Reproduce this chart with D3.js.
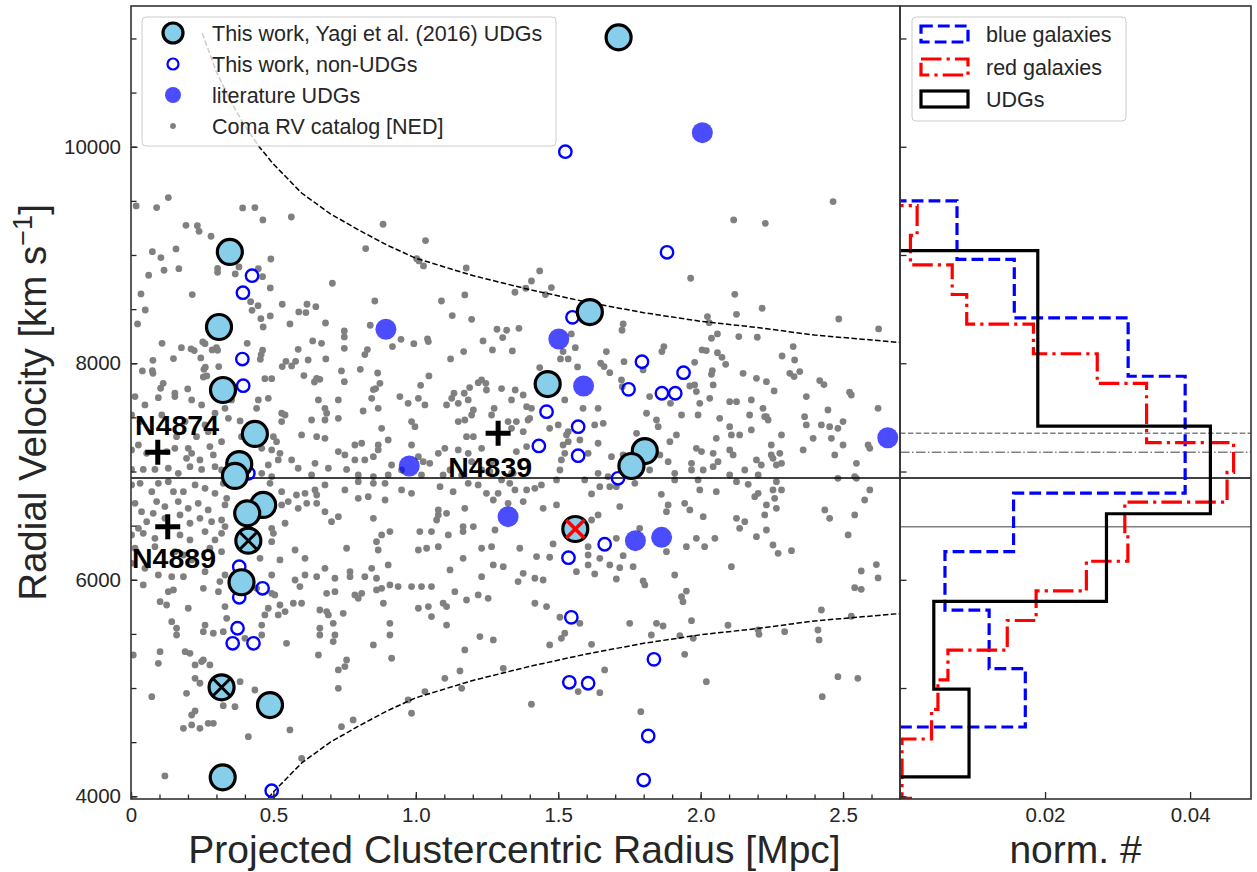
<!DOCTYPE html>
<html>
<head>
<meta charset="utf-8">
<script src="https://cdn.jsdelivr.net/npm/d3@7"></script>
<style>
  body { margin: 0; background: #fff; }
  svg text { font-family: "Liberation Sans", Arial, Helvetica, sans-serif; fill: #262626; }
</style>
</head>
<body>
<svg id="chart" width="1257" height="872"></svg>
<script>
// ---------------- data ----------------
const xTickValues = [0, 0.5, 1.0, 1.5, 2.0, 2.5];
const xTickLabels = ["0", "0.5", "1.0", "1.5", "2.0", "2.5"];
const yTickValues = [4000, 6000, 8000, 10000];
const yTickLabels = ["4000", "6000", "8000", "10000"];
const histTickValues = [0.02, 0.04];
const histTickLabels = ["0.02", "0.04"];

const clusterMeanV = 6940;          // mean cluster velocity (km/s)
const brightNames = ["N4874", "N4889", "N4839"];
const brightR = [0.094, 0.129, 1.289];
const brightV = [7177, 6490, 7353];

// Yagi et al. (2016) UDGs measured in this work
const udgR = [1.712, 0.347, 0.309, 0.323, 1.611, 1.463, 0.435, 0.380, 0.365, 0.464, 0.408, 0.412, 0.388, 0.318, 0.488, 0.322, 1.804, 1.757, 1.560];
const udgV = [11010, 9028, 8335, 7753, 8473, 7808, 7347, 7069, 6959, 6691, 6614, 6361, 5977, 5007, 4843, 4175, 7189, 7051, 6469];
const udgFlag = ["", "", "", "", "", "", "", "", "", "", "", "x", "", "x", "", "", "", "", "redx"];

// non-UDGs from this work
const nonUdgR = [1.525, 1.882, 1.550, 1.794, 1.940, 1.747, 1.864, 1.911, 1.459, 1.570, 1.432, 1.570, 1.710, 1.663, 1.536, 1.546, 1.836, 1.539, 1.605, 1.816, 1.800, 0.425, 0.393, 0.391, 0.394, 0.412, 0.380, 0.462, 0.380, 0.374, 0.357, 0.430, 0.494];
const nonUdgV = [9954, 9025, 8424, 8014, 7913, 7759, 7723, 7723, 7553, 7414, 7236, 7146, 6937, 6328, 6204, 5653, 5265, 5053, 5044, 4557, 4150, 8809, 8652, 8039, 7793, 6983, 6121, 5921, 5838, 5552, 5413, 5413, 4052];

// UDGs from the literature
const litR = [2.006, 0.895, 1.502, 1.589, 0.977, 1.324, 2.657, 1.771, 1.863];
const litV = [10130, 8314, 8224, 7790, 7051, 6583, 7312, 6361, 6392];

// caustic envelope
const causticR = [0.25, 0.30, 0.35, 0.40, 0.45, 0.50, 0.60, 0.70, 0.80, 0.90, 1.00, 1.20, 1.40, 1.60, 1.80, 2.00, 2.20, 2.40, 2.60, 2.70];
const causticUpperV = [11050, 10690, 10420, 10190, 10000, 9840, 9570, 9380, 9230, 9090, 8970, 8810, 8680, 8565, 8467, 8388, 8330, 8260, 8215, 8192];
const causticLowerV = [2830, 3190, 3460, 3690, 3880, 4040, 4310, 4500, 4650, 4790, 4910, 5070, 5200, 5315, 5413, 5492, 5550, 5620, 5665, 5688];

// normalised velocity histograms
const blueEdges = [4640, 5180, 5720, 6260, 6800, 7340, 7880, 8420, 8960, 9500];
const blueVals = [0.01728, 0.01229, 0.00620, 0.01566, 0.03932, 0.03932, 0.03146, 0.01576, 0.00786];
const redEdges = [3708, 3982, 4255, 4529, 4803, 5076, 5350, 5624, 5897, 6171, 6445, 6718, 6992, 7266, 7540, 7814, 8088, 8361, 8635, 8909, 9182, 9456];
const redVals = [0.00144, 0.00028, 0.00028, 0.00435, 0.00523, 0.00661, 0.01479, 0.01877, 0.0257, 0.03142, 0.031, 0.0451, 0.046, 0.034, 0.034, 0.0272, 0.0184, 0.0092, 0.0072, 0.00144, 0.00236];
const udgEdges = [4180, 4990, 5800, 6610, 7420, 8230, 9040];
const udgVals = [0.00952, 0.00466, 0.02847, 0.0428, 0.0190, 0.0190];

// Coma radial-velocity catalogue (NED): [R (Mpc), V (km/s)]
const nedGalaxies = [
[0.131,9530],[0.018,9453],[0.090,9438],[0.392,9435],[0.435,9438],[0.563,9351],[0.463,9324],[0.885,9284],[0.193,9274],[0.233,9271],
[0.239,9219],[0.281,9173],[1.034,9133],[0.158,9056],[0.075,9031],[0.105,8976],[0.824,9059],[0.491,8963],[1.003,8966],[1.011,8945],
[1.027,8899],[1.177,8880],[0.304,8877],[0.116,8859],[0.168,8874],[0.379,8890],[0.304,8840],[0.366,8825],[0.062,8813],[0.462,8800],
[0.447,8874],[0.489,8696],[0.707,8739],[0.035,8640],[0.215,8634],[0.420,8569],[1.172,8631],[0.531,8545],[0.856,8575],[1.090,8575],
[0.618,8545],[0.589,8474],[0.614,8468],[0.649,8523],[0.446,8532],[0.425,8489],[0.050,8492],[0.456,8412],[0.489,8437],[1.128,8440],
[1.196,8406],[0.023,8363],[0.683,8372],[0.558,8363],[0.464,8335],[0.840,8351],[1.285,8314],[1.319,8305],[0.749,8298],[0.749,8243],
[0.948,8221],[0.918,8154],[0.993,8181],[1.041,8224],[1.044,8200],[1.305,8237],[1.236,8206],[0.109,8184],[0.177,8144],[0.211,8132],
[0.222,8117],[0.252,8197],[0.260,8181],[0.408,8184],[0.300,8144],[0.285,8123],[0.304,8120],[0.587,8129],[0.638,8206],[0.669,8184],
[0.749,8138],[0.462,8120],[0.457,8080],[0.454,8037],[0.245,8049],[0.149,8043],[0.077,8027],[0.684,8040],[0.622,8030],[0.830,8126],
[0.821,8080],[1.122,8040],[1.168,8108],[1.269,8123],[0.531,7969],[0.544,8018],[0.564,7975],[0.578,8018],[0.308,7969],[0.261,7963],
[0.256,7944],[0.040,7929],[0.075,7932],[0.077,7907],[0.739,7929],[0.805,7944],[0.866,7910],[0.607,7886],[0.652,7861],[0.663,7852],
[0.644,7827],[0.470,7858],[0.494,7858],[0.254,7873],[0.266,7883],[0.199,7763],[0.154,7723],[0.113,7815],[0.104,7769],[0.749,7830],
[0.874,7815],[0.859,7766],[0.851,7757],[1.046,7883],[1.017,7796],[1.189,7775],[1.219,7821],[1.231,7846],[1.246,7815],[1.248,7753],
[1.301,7766],[1.349,7753],[1.134,7723],[1.170,7723],
[2.465,9493],[2.116,9324],[2.227,9293],[1.965,8785],[1.435,8853],[1.406,8760],[1.476,8699],[1.386,8693],[1.348,8656],[1.455,8634],
[2.120,8637],[2.216,8508],[2.126,8452],[2.024,8431],[2.030,8375],[2.485,8409],[2.625,8317],[1.728,8363],[1.724,8305],[1.362,8323],
[1.546,8271],[2.038,8231],[2.059,8271],[2.134,8246],[2.199,8240],[2.325,8154],[1.339,8114],[1.517,8108],[1.560,8144],[1.669,8108],
[1.871,8154],[1.864,8108],[2.005,8123],[2.020,8117],[2.059,8098],[2.075,8055],[2.088,7990],[2.286,8067],[2.330,8030],[1.508,8040],
[1.535,8040],[1.568,7966],[1.649,8000],[1.661,7969],[1.681,7913],[1.731,8015],[1.979,8009],[2.041,7932],[2.038,7898],[2.149,7907],
[2.196,7861],[2.231,7830],[2.258,7744],[2.313,7907],[2.328,7877],[2.348,7923],[2.418,7840],[2.433,7803],[2.523,7732],[1.435,7960],
[1.722,7846],[1.979,7800],[1.962,7790],[1.985,7738],[2.044,7800],[1.725,7784],[1.798,7938],
[0.096,7682],[0.154,7692],[0.213,7661],[0.248,7615],[0.330,7584],[0.353,7661],[0.447,7661],[0.482,7676],[0.441,7584],[0.529,7538],
[0.658,7661],[0.681,7584],[0.728,7661],[0.815,7559],[0.845,7676],[0.868,7584],[0.944,7692],[0.973,7630],[1.009,7676],[1.032,7615],
[1.108,7615],[1.126,7676],[1.149,7630],[1.184,7661],[1.202,7568],[1.275,7584],[1.336,7661],[0.049,7615],[0.014,7692],
[0.032,7461],[0.108,7522],[0.190,7461],[0.260,7430],[0.295,7538],[0.342,7491],[0.383,7467],[0.541,7522],[0.529,7461],[0.634,7476],
[0.681,7476],[0.728,7491],[0.687,7538],[0.880,7399],[0.985,7461],[0.997,7414],[1.149,7461],[1.196,7522],[1.172,7476],[1.266,7522],
[1.324,7461],[0.002,7522],
[0.026,7245],[0.160,7322],[0.230,7322],[0.271,7368],[0.318,7276],[0.388,7322],[0.500,7322],[0.511,7276],[0.599,7338],[0.652,7322],
[0.681,7307],[0.786,7245],[0.810,7261],[0.868,7245],[0.903,7291],[0.985,7245],[1.178,7322],[1.202,7322],[1.336,7399],
[0.002,7199],[0.055,7168],[0.125,7184],[0.154,7214],[0.201,7214],[0.195,7122],[0.213,7168],[0.242,7107],[0.277,7230],[0.289,7153],
[0.459,7214],[0.494,7199],[0.523,7168],[0.517,7107],[0.564,7107],[0.646,7076],[0.728,7184],[0.751,7153],[0.786,7107],[0.821,7107],
[0.851,7137],[0.868,7199],[0.915,7060],[1.009,7137],[1.026,7091],[1.049,7076],[1.079,7168],[1.102,7214],[1.149,7199],[1.196,7091],
[1.184,7168],[1.231,7214],[1.266,7091],
[0.002,7019],[0.043,7019],[0.084,7019],[0.131,7030],[0.166,6983],[0.207,7045],[0.248,7019],[0.295,7045],[0.318,7014],[0.459,6983],
[0.482,7060],[0.494,6953],[0.587,7030],[0.634,6968],[0.693,7030],[0.757,7019],[0.798,6968],[0.851,6953],[0.903,6968],[0.950,7014],
[1.020,6968],[1.096,6968],[1.120,7014],[1.161,6968],[1.231,7014],[1.260,6999],[1.336,6983],[1.301,6922],
[0.002,6876],[0.032,6891],[0.073,6814],[0.096,6891],[0.131,6906],[0.149,6814],[0.184,6814],[0.225,6876],[0.260,6845],[0.295,6799],
[0.324,6891],[0.488,6891],[0.529,6814],[0.581,6783],[0.611,6799],[0.646,6830],[0.652,6783],[0.681,6876],[0.751,6830],[0.798,6906],
[0.851,6891],[0.892,6891],[0.950,6830],[0.985,6799],[1.085,6860],[1.131,6814],[1.184,6891],[1.219,6876],[1.248,6799],[1.330,6891],
[1.289,6799],
[0.014,6706],[0.037,6629],[0.090,6722],[0.119,6676],[0.166,6722],[0.201,6660],[0.236,6706],[0.271,6645],[0.330,6691],[0.336,6752],
[0.488,6768],[0.529,6691],[0.552,6722],[0.587,6660],[0.617,6706],[0.652,6706],[0.681,6629],[0.798,6752],[0.833,6768],[0.892,6737],
[1.079,6645],[1.108,6614],[1.172,6660],[1.272,6737],[1.324,6706],
[0.026,6475],[0.055,6537],[0.078,6614],[0.119,6568],[0.172,6599],[0.207,6522],[0.242,6568],[0.283,6537],[0.318,6552],[0.330,6491],
[0.494,6475],[0.541,6522],[0.704,6537],[0.728,6583],[0.851,6568],[0.880,6414],[0.909,6445],[1.014,6445],[1.055,6445],[1.073,6552],
[1.079,6599],[1.166,6491],[1.166,6445],[1.202,6491],[1.278,6460],
[0.002,6414],[0.043,6429],[0.084,6383],[0.172,6414],[0.207,6368],[0.260,6445],[0.295,6368],[0.318,6429],[0.500,6429],[0.494,6352],
[0.576,6275],[0.611,6198],[0.757,6291],[0.862,6352],[0.868,6275],[1.038,6291],[1.079,6306],[1.114,6414],[1.231,6291],[1.266,6306],
[0.014,6291],[0.084,6306],[0.154,6260],[0.184,6229],[0.213,6183],[0.277,6291],[0.318,6260],[0.453,6198],[0.523,6183],[0.845,6106],
[0.903,6137],[1.009,6275],[1.166,6198],[1.272,6137],[1.307,6121],[1.120,6091],
[0.002,6152],[0.049,6106],[0.096,6044],[0.143,6029],[0.184,6029],[0.260,6075],[0.330,6044],[0.494,6044],[0.576,5998],[0.611,6044],
[0.652,6029],[0.681,6106],[0.716,6014],[0.769,6029],[0.769,6075],[0.821,6029],[0.862,6014],[0.909,5952],[0.938,5937],[0.985,5937],
[1.231,6029],
[0.043,5952],[0.131,5890],[0.149,5906],[0.254,5921],[0.307,5890],[0.312,5983],[0.441,5921],[0.494,5875],[0.505,5860],[0.593,5937],
[0.687,5875],[0.716,5890],[0.810,5875],[0.786,5860],[0.862,5906],[0.880,5921],[1.020,5937],[1.055,5937],[1.137,5890],[1.219,5860],
[1.254,5829],
[0.102,5798],[0.125,5767],[0.201,5737],[0.330,5752],[0.482,5737],[0.523,5767],[0.541,5706],[0.570,5783],[0.599,5783],[0.663,5721],
[0.687,5706],[0.745,5690],[0.798,5829],[0.886,5783],[1.009,5737],[1.044,5752],[1.096,5783],[1.108,5752],[1.178,5813],
[0.143,5613],[0.160,5552],[0.260,5582],[0.336,5644],[0.470,5675],[0.517,5675],[0.459,5582],[0.663,5552],[0.693,5675],[0.710,5598],
[0.909,5598],[1.055,5660],[1.108,5582],
[0.160,5490],[0.254,5521],[0.289,5506],[0.324,5521],[0.400,5459],[0.546,5413],[0.459,5490],[0.663,5490],[0.716,5490],[0.710,5429],
[0.851,5398],[0.909,5490],[1.225,5475],[1.272,5444],
[0.008,5305],[0.102,5336],[0.190,5336],[0.207,5321],[0.254,5259],[0.915,5275],[0.658,5305],[0.757,5259],[1.172,5352],
[0.096,5228],[0.225,5213],[0.248,5244],[0.277,5213],[0.728,5167],[0.751,5198],[1.155,5158],[1.102,5090],[1.307,5182],
[0.073,4920],[0.195,4951],[0.225,5090],[0.242,5044],[0.383,5059],[0.435,4982],[0.728,4997],[1.032,4967],[1.161,4997],
[0.324,4837],[0.365,4828],[0.213,4751],[0.225,4788],[0.973,4890],[0.985,4767],
[0.184,4628],[0.213,4659],[0.242,4628],[0.271,4674],[0.289,4674],[0.558,4613],[0.739,4643],[0.780,4705],
[0.412,4551],[0.599,4351],[0.119,4188],
[1.377,7707],[1.523,7661],[1.587,7584],[1.640,7584],[1.389,7599],[1.406,7584],[1.400,7491],[1.821,7692],[1.894,7630],[1.933,7522],
[1.997,7630],[2.032,7676],[2.102,7645],[2.126,7645],[2.178,7661],[2.219,7584],[2.225,7507],[2.237,7476],[2.371,7692],[2.365,7507],
[2.371,7430],[2.447,7568],[2.500,7461],[2.623,7584],[2.529,7707],
[1.353,7461],[1.394,7476],[1.470,7399],[1.500,7430],[1.535,7368],[1.628,7430],[1.658,7445],[1.810,7538],[1.845,7476],[1.851,7414],
[1.991,7522],[2.067,7491],[2.102,7414],[2.172,7522],[2.178,7384],[2.231,7507],[2.424,7430],[2.453,7414],[2.482,7399],
[1.377,7368],[1.529,7338],[1.576,7291],[1.535,7276],[1.640,7261],[1.775,7353],[1.892,7276],[1.915,7338],[2.055,7307],[2.108,7338],
[2.137,7338],[2.284,7338],[2.248,7245],[2.395,7307],[2.459,7307],[2.500,7245],[2.588,7245],
[1.353,7184],[1.389,7230],[1.517,7245],[1.523,7168],[1.605,7168],[1.687,7137],[1.728,7153],[1.857,7153],[1.886,7091],[1.985,7214],
[2.003,7184],[1.968,7076],[2.044,7168],[2.061,7091],[2.102,7199],[2.114,7153],[2.196,7107],[2.213,7060],[2.248,7153],[2.254,7122],
[2.278,7168],[2.360,7199],[2.471,7153],[2.547,7076],[2.594,7214],
[1.342,6983],[1.511,7107],[1.506,7014],[1.640,6983],[1.593,6922],[1.675,6953],[1.821,7014],[1.909,6983],[1.968,7014],[2.009,7014],
[2.044,7045],[2.102,6968],[2.155,7014],[2.202,6968],[2.266,7060],[2.284,7076],[2.541,6953],[2.482,6937],
[1.348,6830],[1.418,6845],[1.389,6830],[1.441,6876],[1.494,6922],[1.617,6793],[1.646,6860],[1.681,6860],[1.704,6860],[1.769,6891],
[1.862,6789],[1.909,6922],[1.991,6922],[1.997,6830],[2.055,6814],[2.126,6906],[2.167,6882],[2.202,6799],[2.254,6830],[2.266,6906],
[2.284,6830],[2.594,6830],[2.547,6937],
[1.377,6722],[1.447,6660],[1.494,6691],[1.716,6676],[1.886,6691],[1.880,6629],[1.944,6706],[1.962,6645],[2.190,6768],[2.231,6691],
[2.260,6752],[2.266,6660],[2.436,6645],[2.576,6737],
[1.640,6599],[1.617,6552],[2.009,6583],[2.126,6568],[2.155,6537],[2.137,6475],[2.225,6599],[2.231,6460],[2.453,6568],[2.541,6599],
[1.365,6291],[1.482,6331],[1.605,6306],[1.704,6383],[1.786,6475],[1.880,6260],[1.950,6306],[1.985,6383],[2.014,6306],[2.050,6383],
[2.196,6398],[2.254,6321],[2.272,6244],[2.319,6269],[2.518,6414],
[1.424,6214],[1.470,6208],[1.605,6229],[1.646,6198],[1.564,6075],[1.681,6137],[1.728,6223],[1.763,6121],[1.716,6112],[1.605,6137],
[1.628,6054],[2.108,6121],
[1.377,6060],[1.359,5983],[1.418,6014],[1.447,5998],[1.704,6007],[1.798,5989],[1.804,5952],[1.909,6044],[2.617,6140],[2.623,6017],
[2.564,6081],[2.541,5927],[2.564,5912],
[1.418,5783],[1.459,5752],[1.950,5896],[1.933,5844],[1.938,5798],[2.424,5721],
[1.506,5654],[1.576,5598],[1.751,5598],[1.845,5598],[1.868,5573],[1.968,5622],[2.096,5580],[2.529,5663],[2.412,5536],
[1.511,5459],[1.523,5506],[1.470,5398],[1.617,5404],[1.827,5490],[1.927,5484],[1.974,5459],[2.202,5536],[2.205,5496],[2.295,5521],
[2.416,5444],
[1.663,5167],[1.944,5311],[2.020,5059],[1.570,4967],[1.646,4957],[2.482,5105],[2.552,5090],[2.427,4920],
[1.406,4850],[1.790,4782]
];

// ---------------- layout ----------------
const svg = d3.select("#chart");
const x = d3.scaleLinear().domain([0, 2.7]).range([131, 900]);
const y = d3.scaleLinear().domain([3975, 11300]).range([799, 6]);
const hx = d3.scaleLinear().domain([0, 0.0484]).range([900, 1251]);

const defs = svg.append("defs");
defs.append("clipPath").attr("id", "clipMain").append("rect")
  .attr("x", x.range()[0]).attr("y", y.range()[1])
  .attr("width", x.range()[1] - x.range()[0]).attr("height", y.range()[0] - y.range()[1]);
defs.append("clipPath").attr("id", "clipHist").append("rect")
  .attr("x", hx.range()[0]).attr("y", y.range()[1])
  .attr("width", hx.range()[1] - hx.range()[0]).attr("height", y.range()[0] - y.range()[1]);

// ---------------- scatter panel ----------------
const main = svg.append("g").attr("clip-path", "url(#clipMain)");

main.append("g").selectAll("circle").data(nedGalaxies).join("circle")
  .attr("cx", d => x(d[0])).attr("cy", d => y(d[1])).attr("r", 3.4)
  .attr("fill", "#808080");

const caustic = d3.line().x((d, i) => x(causticR[i])).y(d => y(d));
[causticUpperV, causticLowerV].forEach(vs => {
  main.append("path").attr("d", caustic(vs))
    .attr("fill", "none").attr("stroke", "#000").attr("stroke-width", 1.5)
    .attr("stroke-dasharray", "5.5,2.4");
});

main.append("line")
  .attr("x1", x(0)).attr("x2", x(2.7))
  .attr("y1", y(clusterMeanV)).attr("y2", y(clusterMeanV))
  .attr("stroke", "#000").attr("stroke-width", 1.5);

main.append("g").selectAll("circle").data(nonUdgR).join("circle")
  .attr("cx", d => x(d)).attr("cy", (d, i) => y(nonUdgV[i])).attr("r", 6.2)
  .attr("fill", "none").attr("stroke", "#0000ff").attr("stroke-width", 2.4);

main.append("g").selectAll("circle").data(litR).join("circle")
  .attr("cx", d => x(d)).attr("cy", (d, i) => y(litV[i])).attr("r", 10.5)
  .attr("fill", "#0000ff").attr("fill-opacity", 0.7);

const udgG = main.append("g");
udgR.forEach((r, i) => {
  const cx = x(r), cy = y(udgV[i]);
  udgG.append("circle").attr("cx", cx).attr("cy", cy).attr("r", 12.5)
    .attr("fill", "#87ceeb").attr("stroke", "#000").attr("stroke-width", 3.2);
  if (udgFlag[i]) {
    const s = udgFlag[i] === "redx" ? 9 : 8;
    const col = udgFlag[i] === "redx" ? "#ff0000" : "#000";
    udgG.append("path")
      .attr("d", `M${cx - s},${cy - s}L${cx + s},${cy + s}M${cx - s},${cy + s}L${cx + s},${cy - s}`)
      .attr("stroke", col).attr("stroke-width", udgFlag[i] === "redx" ? 3.6 : 3);
  }
});

// brightest cluster galaxies
const labelOffset = [[-22.7, -17], [-35.7, 41.6], [-50, 44]];
brightNames.forEach((name, i) => {
  const cx = x(brightR[i]), cy = y(brightV[i]);
  main.append("path")
    .attr("d", `M${cx - 12.5},${cy}H${cx + 12.5}M${cx},${cy - 12.5}V${cy + 12.5}`)
    .attr("stroke", "#000").attr("stroke-width", 5);
  main.append("text").attr("x", cx + labelOffset[i][0]).attr("y", cy + labelOffset[i][1])
    .attr("font-size", 28.5).attr("font-weight", "bold").style("fill", "#000").text(name);
});

// ---------------- histogram panel ----------------
const hist = svg.append("g").attr("clip-path", "url(#clipHist)");

function refLine(v, color, dash) {
  hist.append("line").attr("x1", hx.range()[0]).attr("x2", hx.range()[1])
    .attr("y1", y(v)).attr("y2", y(v))
    .attr("stroke", color).attr("stroke-width", 1.5)
    .attr("stroke-dasharray", dash);
}
refLine(brightV[2], "#808080", "5.5,2.4");
refLine(brightV[0], "#808080", "9.6,2.4,1.5,2.4");
refLine(brightV[1], "#808080", null);
refLine(clusterMeanV, "#000", null);

function stepPath(edges, vals) {
  const pts = [[0, edges[0]]];
  vals.forEach((h, i) => { pts.push([h, edges[i]], [h, edges[i + 1]]); });
  pts.push([0, edges[edges.length - 1]]);
  return d3.line().x(d => hx(d[0])).y(d => y(d[1]))(pts);
}
hist.append("path").attr("d", stepPath(blueEdges, blueVals))
  .attr("fill", "none").attr("stroke", "#0000ff").attr("stroke-width", 3.2)
  .attr("stroke-dasharray", "11.8,5.1");
hist.append("path").attr("d", stepPath(redEdges, redVals))
  .attr("fill", "none").attr("stroke", "#ff0000").attr("stroke-width", 3.2)
  .attr("stroke-dasharray", "20.5,5.1,3.2,5.1");
hist.append("path").attr("d", stepPath(udgEdges, udgVals))
  .attr("fill", "none").attr("stroke", "#000").attr("stroke-width", 3.2);

// ---------------- axes ----------------
const tickColor = "#262626";
function styleAxis(g) {
  g.select(".domain").remove();
  g.selectAll("line").attr("stroke", tickColor).attr("stroke-width", 1.3);
  g.selectAll("text").attr("font-size", 20.5).style("fill", tickColor)
    .attr("font-family", "Liberation Sans, Arial, sans-serif");
}
const yBottom = y.range()[0];

svg.append("g").attr("transform", `translate(0,${yBottom})`)
  .call(d3.axisBottom(x).tickValues(d3.range(0, 27).map(k => k / 10)).tickSize(-4.5).tickFormat(""))
  .call(styleAxis);
svg.append("g").attr("transform", `translate(0,${yBottom})`)
  .call(d3.axisBottom(x).tickValues(xTickValues).tickSize(-7).tickPadding(8)
    .tickFormat((d, i) => xTickLabels[i]))
  .call(styleAxis);

svg.append("g").attr("transform", `translate(${x.range()[0]},0)`)
  .call(d3.axisLeft(y).tickValues(d3.range(4000, 11001, 500)).tickSize(-5.5).tickFormat(""))
  .call(styleAxis);
svg.append("g").attr("transform", `translate(${x.range()[0]},0)`)
  .call(d3.axisLeft(y).tickValues(yTickValues).tickSize(-6.5).tickPadding(10)
    .tickFormat((d, i) => yTickLabels[i]))
  .call(styleAxis);

svg.append("g").attr("transform", `translate(${hx.range()[0]},0)`)
  .call(d3.axisLeft(y).tickValues(d3.range(4000, 11001, 1000)).tickSize(-6.5).tickFormat(""))
  .call(styleAxis);
svg.append("g").attr("transform", `translate(0,${yBottom})`)
  .call(d3.axisBottom(hx).tickValues(histTickValues).tickSize(-7).tickPadding(8)
    .tickFormat((d, i) => histTickLabels[i]))
  .call(styleAxis);

// frames
[[x.range()[0], x.range()[1]], [hx.range()[0], hx.range()[1]]].forEach(([a, b]) => {
  svg.append("rect").attr("x", a).attr("y", y.range()[1])
    .attr("width", b - a).attr("height", y.range()[0] - y.range()[1])
    .attr("fill", "none").attr("stroke", "#333").attr("stroke-width", 1.6);
});

// axis titles
svg.append("text").attr("x", (x.range()[0] + x.range()[1]) / 2 - 1).attr("y", 863)
  .attr("text-anchor", "middle").attr("font-size", 39)
  .text("Projected Clustercentric Radius [Mpc]");
svg.append("text").attr("x", (hx.range()[0] + hx.range()[1]) / 2).attr("y", 863)
  .attr("text-anchor", "middle").attr("font-size", 39).text("norm. #");
const yl = svg.append("text")
  .attr("transform", `translate(46,${(y.range()[0] + y.range()[1]) / 2}) rotate(-90)`)
  .attr("text-anchor", "middle").attr("font-size", 38.5);
yl.append("tspan").text("Radial Velocity [km s");
yl.append("tspan").attr("font-size", 27).attr("dy", -14).text("\u22121");
yl.append("tspan").attr("dy", 14).text("]");

// ---------------- legends ----------------
function legendBox(x0, y0, w, h) {
  svg.append("rect").attr("x", x0).attr("y", y0).attr("width", w).attr("height", h)
    .attr("rx", 4).attr("fill", "#fff").attr("fill-opacity", 0.8)
    .attr("stroke", "#cccccc").attr("stroke-width", 1);
}
legendBox(142, 17, 414, 129);
const leg1Rows = [33, 64, 95, 126];
const leg1Text = ["This work, Yagi et al. (2016) UDGs", "This work, non-UDGs", "literature UDGs", "Coma RV catalog [NED]"];
const mx = 173;
svg.append("circle").attr("cx", mx).attr("cy", leg1Rows[0]).attr("r", 10)
  .attr("fill", "#87ceeb").attr("stroke", "#000").attr("stroke-width", 3.2);
svg.append("circle").attr("cx", mx).attr("cy", leg1Rows[1]).attr("r", 5.5)
  .attr("fill", "none").attr("stroke", "#0000ff").attr("stroke-width", 2.2);
svg.append("circle").attr("cx", mx).attr("cy", leg1Rows[2]).attr("r", 8)
  .attr("fill", "#0000ff").attr("fill-opacity", 0.7);
svg.append("circle").attr("cx", mx).attr("cy", leg1Rows[3]).attr("r", 2.9).attr("fill", "#808080");
leg1Text.forEach((t, i) => {
  svg.append("text").attr("x", 212).attr("y", leg1Rows[i] + 7.6).attr("font-size", 21.5).text(t);
});

legendBox(912, 17, 214, 104);
const leg2Rows = [34, 67, 99];
const leg2Text = ["blue galaxies", "red galaxies", "UDGs"];
const leg2Style = [["#0000ff", "11.8,5.1"], ["#ff0000", "20.5,5.1,3.2,5.1"], ["#000", null]];
leg2Rows.forEach((ry, i) => {
  svg.append("rect").attr("x", 921).attr("y", ry - 8).attr("width", 47).attr("height", 16)
    .attr("fill", "none").attr("stroke", leg2Style[i][0]).attr("stroke-width", 3.2)
    .attr("stroke-dasharray", leg2Style[i][1]);
  svg.append("text").attr("x", 986).attr("y", ry + 7.6).attr("font-size", 21.5).text(leg2Text[i]);
});
</script>
</body>
</html>
